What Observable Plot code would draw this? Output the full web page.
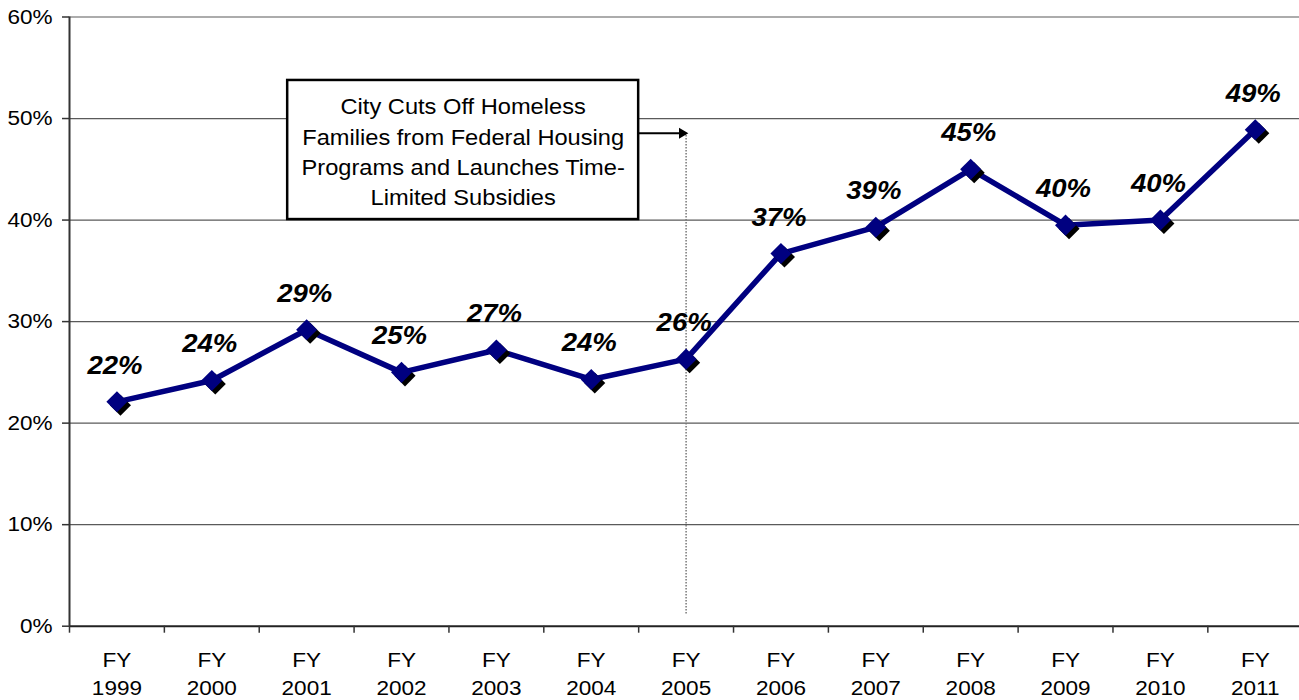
<!DOCTYPE html>
<html>
<head>
<meta charset="utf-8">
<script src="https://cdn.jsdelivr.net/npm/d3@7"></script>
<script src="https://cdn.jsdelivr.net/npm/@observablehq/plot@0.6"></script>
<style>
  html, body { margin: 0; padding: 0; background: #fff; overflow: hidden; }
  #chart svg { display: block; }
</style>
</head>
<body>
<div id="chart"></div>
<script>
// ---- data ----
const prefix = "FY";
const years = ["1999", "2000", "2001", "2002", "2003", "2004", "2005", "2006", "2007", "2008", "2009", "2010", "2011"];
const values = [22.1, 24.2, 29.2, 25.0, 27.2, 24.3, 26.3, 36.7, 39.3, 45.0, 39.5, 40.0, 48.9];
const valueLabels = ["22%", "24%", "29%", "25%", "27%", "24%", "26%", "37%", "39%", "45%", "40%", "40%", "49%"];
const yTicks = [0, 10, 20, 30, 40, 50, 60];
const annotationLines = ["City Cuts Off Homeless", "Families from Federal Housing", "Programs and Launches Time-", "Limited Subsidies"];
// annotation anchored at FY 2005 (index 6)
const annotationTarget = 6;
const annotationBox = [{x1: 1.8, x2: 5.5, y1: 40.05, y2: 53.75}];
const annotationTextPos = [{x: 3.65, y: 46.9}];
const arrowY = 48.55;
const dottedBottom = 1.2;

const boundaries = d3.range(-0.5, years.length, 1);
const pts = values.map((v, i) => ({i, v, label: valueLabels[i], cat: prefix + "\n" + years[i]}));

const font = "'Liberation Sans', Arial, Helvetica, sans-serif";
const navy = "#000080";

const chart = Plot.plot({
  width: 1299,
  height: 700,
  marginLeft: 69,
  marginRight: 0,
  marginTop: 16.5,
  marginBottom: 74.3,
  style: {fontFamily: font, background: "#fff", overflow: "hidden"},
  x: {type: "linear", domain: [-0.5, 12.5], range: [69, 1302.2]},
  y: {domain: [0, 60], range: [625.7, 16.5]},
  marks: [
    // gridlines
    Plot.ruleY(yTicks.filter(d => d > 0), {stroke: "#5a5a5a", strokeWidth: 1.2}),
    // dotted vertical marker at FY 2005
    Plot.ruleX([annotationTarget], {y1: dottedBottom, y2: arrowY, stroke: "#777", strokeWidth: 1.5, strokeDasharray: "1.5,1.5"}),
    // series line
    Plot.line(pts, {x: "i", y: "v", stroke: navy, strokeWidth: 5.5, strokeLinejoin: "miter"}),
    // marker shadows
    Plot.dot(pts, {x: "i", y: "v", symbol: "diamond2", r: 9.5, fill: "#000", stroke: "none", dx: 3.5, dy: 3.5}),
    // markers
    Plot.dot(pts, {x: "i", y: "v", symbol: "diamond2", r: 9.5, fill: navy, stroke: "none"}),
    // data labels
    Plot.text(pts, {x: "i", y: "v", text: "label", dx: -2, dy: -28, lineAnchor: "bottom", fontSize: 25, fontWeight: "bold", fontStyle: "italic", fill: "#000"}),
    // annotation box
    Plot.rect(annotationBox, {x1: "x1", x2: "x2", y1: "y1", y2: "y2", fill: "#fff", stroke: "#000", strokeWidth: 2.5}),
    Plot.text(annotationTextPos, {x: "x", y: "y", text: () => annotationLines.join("\n"), fontSize: 21.5, lineHeight: 1.4, fill: "#000", lineAnchor: "middle"}),
    // arrow from box to marker
    Plot.link([{x1: annotationBox[0].x2, x2: annotationTarget, y: arrowY}], {x1: "x1", x2: "x2", y1: "y", y2: "y", stroke: "#000", strokeWidth: 2}),
    Plot.dot([{x: annotationTarget, y: arrowY}], {x: "x", y: "y", symbol: "triangle", rotate: 90, r: 4, fill: "#000", stroke: "none", dx: -4}),
    // y axis
    Plot.axisY(yTicks, {tickSize: 7, tickPadding: 10, tickFormat: d => d + "%", fontSize: 20.5, stroke: "#333", strokeWidth: 1.5, fill: "#000", label: null}),
    Plot.ruleX([-0.5], {stroke: "#333", strokeWidth: 2}),
    // x axis baseline and ticks between categories
    Plot.ruleY([0], {stroke: "#222", strokeWidth: 2}),
    Plot.axisX(boundaries, {tickSize: 7, tickFormat: () => "", stroke: "#333", strokeWidth: 1.5, label: null}),
    // x category labels
    Plot.text(pts, {x: "i", y: () => 0, text: "cat", lineAnchor: "top", dy: 21, lineHeight: 1.37, fontSize: 20.5, fill: "#000"})
  ]
});

// horizontal stretch of text to match the reference rendering
chart.querySelectorAll("text").forEach(t => {
  const tr = t.getAttribute("transform") || "";
  t.setAttribute("transform", tr + " scale(1.1,1)");
});

document.getElementById("chart").appendChild(chart);
</script>
</body>
</html>
